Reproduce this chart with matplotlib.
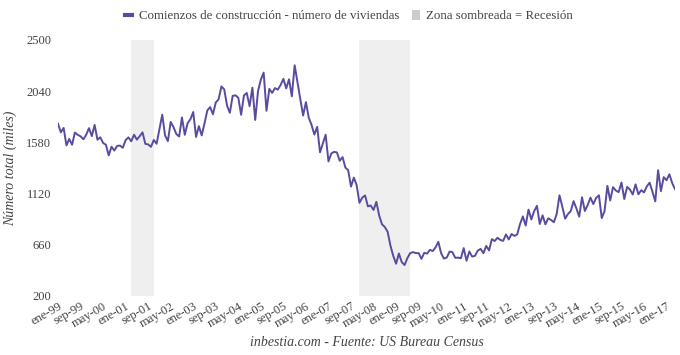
"""Comienzos de construcción de viviendas en EE.UU. (1999-2017)."""
import pandas as pd
import matplotlib.pyplot as plt
from matplotlib.lines import Line2D
from matplotlib.patches import Patch
from matplotlib.transforms import ScaledTranslation

plt.rcParams['font.family'] = ['Liberation Serif', 'DejaVu Serif']

# Datos mensuales (miles de viviendas), ene-1999 a abr-2017
viviendas = [
    1748, 1670, 1710, 1553, 1611, 1559, 1669, 1648, 1635, 1608, 1648, 1708,  # 1999
    1636, 1737, 1604, 1626, 1575, 1559, 1463, 1541, 1507, 1549, 1551, 1532,  # 2000
    1600, 1625, 1590, 1649, 1605, 1636, 1670, 1567, 1562, 1540, 1602, 1568,  # 2001
    1698, 1829, 1642, 1592, 1764, 1717, 1655, 1633, 1804, 1648, 1753, 1788,  # 2002
    1853, 1629, 1726, 1643, 1751, 1867, 1897, 1833, 1939, 1967, 2083, 2057,  # 2003
    1911, 1846, 1998, 2003, 1981, 1828, 2002, 2024, 1905, 2072, 1782, 2042,  # 2004
    2144, 2207, 1864, 2061, 2025, 2068, 2054, 2095, 2151, 2065, 2147, 1994,  # 2005
    2273, 2119, 1969, 1821, 1942, 1802, 1737, 1650, 1720, 1491, 1570, 1649,  # 2006
    1409, 1480, 1495, 1490, 1415, 1448, 1354, 1330, 1183, 1264, 1197, 1037,  # 2007
    1084, 1103, 1005, 1013, 973, 1046, 923, 844, 820, 777, 652, 560,        # 2008
    490, 582, 505, 478, 540, 585, 594, 586, 585, 534, 588, 581,             # 2009
    614, 604, 636, 687, 583, 536, 546, 599, 594, 543, 545, 539,             # 2010
    630, 517, 600, 554, 561, 608, 623, 585, 650, 610, 711, 694,             # 2011
    723, 704, 695, 753, 708, 757, 740, 754, 847, 915, 833, 976,             # 2012
    888, 962, 1010, 847, 925, 844, 898, 883, 863, 936, 1105, 1003,          # 2013
    895, 936, 963, 1052, 987, 913, 1087, 964, 1017, 1084, 1026, 1081,       # 2014
    1105, 900, 963, 1190, 1058, 1178, 1148, 1133, 1220, 1071, 1180, 1157,   # 2015
    1112, 1203, 1114, 1150, 1131, 1185, 1218, 1136, 1050, 1330, 1142, 1268, # 2016
    1240, 1294, 1215, 1160,                                                 # 2017
]
fechas = pd.date_range("1999-01-01", periods=len(viviendas), freq="MS")

# Recesiones (NBER)
recesion_inicio = ["2001-03-01", "2007-12-01"]
recesion_fin = ["2001-11-01", "2009-06-01"]

meses = ["ene", "feb", "mar", "abr", "may", "jun",
         "jul", "ago", "sep", "oct", "nov", "dic"]
etiquetas = [f"{meses[f.month - 1]}-{f.strftime('%y')}" for f in fechas]

y_ticks = [200, 660, 1120, 1580, 2040, 2500]

morado = "#5b4a9f"
gris_texto = "#444444"

fig = plt.figure(figsize=(6.8, 3.55), dpi=100)
ax = fig.add_axes([58 / 680, 1 - 296 / 355, 617 / 680, 256 / 355])

x = list(range(len(viviendas)))
idx = {f: i for i, f in enumerate(fechas)}

# Zonas sombreadas
for ini, fin in zip(recesion_inicio, recesion_fin):
    ax.axvspan(idx[pd.Timestamp(ini)], idx[pd.Timestamp(fin)],
               color="#efefef", lw=0, zorder=0)

ax.plot(x, viviendas, color=morado, lw=1.4, zorder=2)

ax.set_xlim(0, len(viviendas) - 1)
ax.set_ylim(200, 2500)
ax.set_yticks(y_ticks)
ax.set_yticklabels([str(v) for v in y_ticks], fontsize=9, color=gris_texto)

ticks_x = x[::8]
ax.set_xticks(ticks_x)
ax.set_xticklabels([etiquetas[i] for i in ticks_x], rotation=30, ha="right",
                   rotation_mode="anchor", fontsize=9, color=gris_texto)
desplaza = ScaledTranslation(0.04, 0, fig.dpi_scale_trans)
for lab in ax.get_xticklabels():
    lab.set_transform(lab.get_transform() + desplaza)

ax.tick_params(axis="both", length=0)
ax.tick_params(axis="y", pad=5)
ax.tick_params(axis="x", pad=3)
for s in ax.spines.values():
    s.set_visible(False)

ax.set_ylabel("Número total (miles)", fontsize=10, style="italic",
              color=gris_texto)
ax.yaxis.set_label_coords(-0.066, 0.5)

handles = [Line2D([0], [0], color=morado, lw=3),
           Patch(facecolor="#cccccc", edgecolor="none")]
fig.legend(handles, ["Comienzos de construcción - número de viviendas",
                     "Zona sombreada = Recesión"],
           loc="center", bbox_to_anchor=(0.513, 1 - 16 / 355), ncol=2,
           frameon=False, fontsize=9.3, handlelength=0.6, handleheight=0.8,
           handletextpad=0.5, columnspacing=1.0, labelcolor=gris_texto)

fig.text(367 / 680, 1 - 343 / 355, "inbestia.com - Fuente: US Bureau Census",
         ha="center", va="center", fontsize=10, style="italic", color=gris_texto)

fig.savefig("out.png", dpi=100)
